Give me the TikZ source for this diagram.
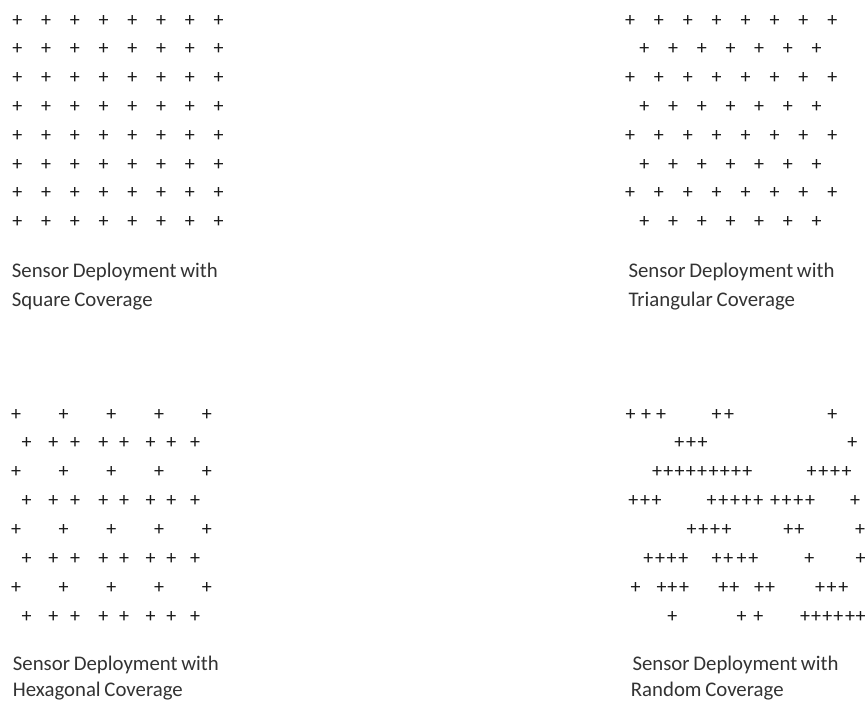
\documentclass[tikz,border=0pt]{standalone}
\usepackage{fontspec}
\setmainfont{Carlito}
\usetikzlibrary{positioning}
\newcommand\capfont{\fontsize{20.8}{24}\selectfont\spaceskip=0.18em\relax}

\begin{document}
\begin{tikzpicture}[x=1pt, y=-1pt,
    sensor/.style={inner sep=0pt, text=black!90, font=\fontsize{20}{20}\selectfont},
    caption/.style={anchor=base west, inner sep=0pt, text=black!80, font=\capfont}]

  \useasboundingbox[fill=white] (0,0) rectangle (865,702);

  % square coverage (top left)
  \foreach \r in {0,...,7}
    \foreach \c in {0,...,7}
      \node[sensor] (sq-\r-\c) at (17.3+28.77*\c, 20.7+28.76*\r) {+};
  \node[caption] (sq-cap1) at (11.7,277) {Sensor Deployment with};
  \node[caption] (sq-cap2) at (11.7,306.5) {Square Coverage};

  % triangular coverage (top right)
  \foreach \r in {0,2,4,6} {
    \foreach \c in {0,...,7}
      \node[sensor] (tri-\r-\c) at (630+28.9*\c, 20.7+28.76*\r) {+};
  }
  \foreach \r in {1,3,5,7} {
    \foreach \c in {0,...,6}
      \node[sensor] (tri-\r-\c) at (644.3+28.73*\c, 20.7+28.76*\r) {+};
  }
  \node[caption] (tri-cap1) at (628.3,277) {Sensor Deployment with};
  \node[caption] (tri-cap2) at (628.3,306.5) {Triangular Coverage};

  % hexagonal coverage (bottom left)
  \foreach \r in {0,2,4,6} {
    \foreach \c in {0,...,4}
      \node[sensor] (hex-\r-\c) at (16+47.7*\c, 414.5+28.9*\r) {+};
  }
  \foreach \r in {1,3,5,7} {
    \foreach \x [count=\c] in {26.7,53.3,75,103.3,124,150.7,171.3,195}
      \node[sensor] (hex-\r-\c) at (\x, 414.5+28.9*\r) {+};
  }
  \node[caption] (hex-cap1) at (12.7,670.7) {Sensor Deployment with};
  \node[caption] (hex-cap2) at (12.7,696.5) {Hexagonal Coverage};

  % random coverage (bottom right)
  \foreach \xs [count=\r] in {
      {630.7,646,661,716.7,729,832.3},
      {679.3,691,702.7,852.3},
      {657,668.3,679.6,690.9,702.2,713.5,724.8,736.1,747.4,811.7,823.3,835,846.7},
      {633.3,645,656.7,711.7,723.3,735,746.7,758.3,775,786.7,798.3,810,855},
      {691.7,703.3,715,726.7,788.3,799.3,860},
      {648.3,660,671.7,683.3,716.7,728.3,741.7,753.3,809.3,860.7},
      {635.7,661.7,672.3,684,723.3,734.3,759,770,820,831.7,843.3},
      {672.3,741.7,758.3,805,816,827.3,838.3,850,860.7}} {
    \foreach \x [count=\c] in \xs
      \node[sensor] (rnd-\r-\c) at (\x, 414.5+28.9*\r-28.9) {+};
  }
  \node[caption] (rnd-cap1) at (632.3,670.7) {Sensor Deployment with};
  \node[caption] (rnd-cap2) at (630.7,696.5) {Random Coverage};

\end{tikzpicture}
\end{document}
